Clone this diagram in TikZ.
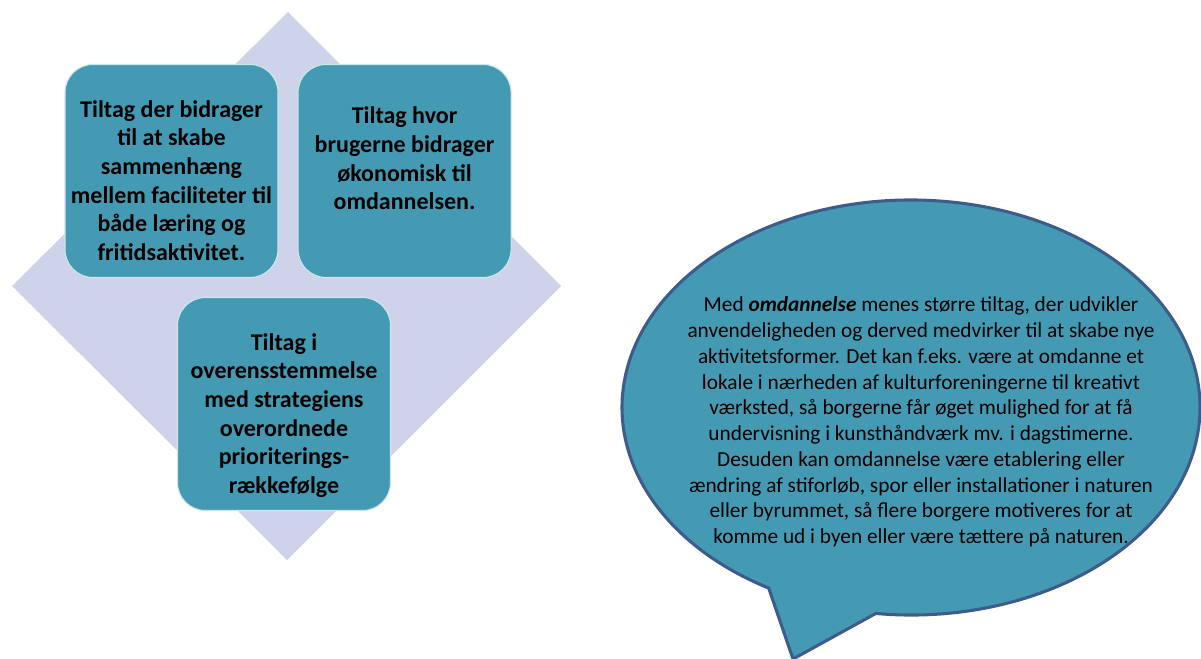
\documentclass[tikz,border=0pt]{standalone}
\usepackage{fontspec}
\setmainfont{Carlito}
\usepackage{tikz}
\usetikzlibrary{positioning}
\definecolor{diamondlilac}{HTML}{CED3E9}
\definecolor{tealbox}{HTML}{4499B3}
\definecolor{tealedge}{HTML}{CBE7EF}
\definecolor{bubbleedge}{HTML}{3D5C8C}

\tikzset{
	tealsquare/.style={fill=tealbox, draw=tealedge, line width=0.8pt, rounded corners=21pt,
		minimum width=159.75pt, minimum height=159.75pt, inner sep=0pt},
	squaretext/.style={align=center, text=black, inner sep=0pt,
		font=\fontsize{18}{21.5}\selectfont\bfseries},
	bubbletext/.style={align=center, text=black, inner sep=0pt,
		font=\fontsize{16}{19.3}\selectfont}
}

\begin{document}
\begin{tikzpicture}[x=0.75pt, y=-0.75pt]
				\useasboundingbox (0,0) rectangle (1201,659);
				% background diamond
				\fill[diamondlilac] (288,12) -- (561,286) -- (287,560) -- (12,286) -- cycle;
				% the three squares
				\node[tealsquare] (sqleft) at (171.5,171) {};
				\node[tealsquare, right=14.25pt of sqleft] (sqright) {};
				\node[tealsquare] (sqbottom) at (284,404) {};
				\node[squaretext, below=27pt of sqleft.north] (txleft) {
					Tiltag der bidrager\\ til at skabe\\ sammenhæng\\
					mellem faciliteter til\\ både læring og\\ fritidsaktivitet.
				};
				\node[squaretext, below=32pt of sqright.north] (txright) {
					Tiltag hvor\\ brugerne bidrager\\ økonomisk til\\ omdannelsen.
				};
				\node[squaretext, below=27pt of sqbottom.north] (txbottom) {
					Tiltag i\\ overensstemmelse\\ med strategiens\\ overordnede\\
					prioriterings-\\ rækkefølge
				};
				% speech bubble
				\coordinate (bubblecentre) at (911,407.5);
				\coordinate (tailtip) at (793,659);
				\filldraw[fill=tealbox, draw=bubbleedge, line width=2.3pt, line join=miter]
					(tailtip) -- ([shift={(97:289 and 207.5)}]bubblecentre)
					arc[start angle=97, end angle=-240.5, x radius=289, y radius=207.5]
					-- cycle;
				\node[bubbletext] (bubblemsg) at (921,422) {
					Med \textbf{\textit{omdannelse}} menes større tiltag, der udvikler\\
					anvendeligheden og derved medvirker til at skabe nye\\
					aktivitetsformer. Det kan f.eks. være at omdanne et\\
					lokale i nærheden af kulturforeningerne til kreativt\\
					værksted, så borgerne får øget mulighed for at få\\
					undervisning i kunsthåndværk mv. i dagstimerne.\\
					Desuden kan omdannelse være etablering eller\\
					ændring af stiforløb, spor eller installationer i naturen\\
					eller byrummet, så flere borgere motiveres for at\\
					komme ud i byen eller være tættere på naturen.
				};
			\end{tikzpicture}
\end{document}
